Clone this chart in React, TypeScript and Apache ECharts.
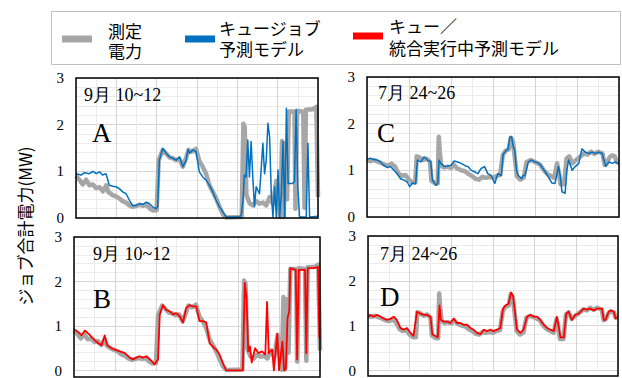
import React, { useEffect, useRef } from "react";
import * as echarts from "echarts";

// ---- September 10~12 (panels A, B) ----
const sepMeasuredT = [0, 1, 2, 3, 4, 5, 6, 7, 8, 9, 9.6, 10.9, 11.9, 12.9, 13.9, 14.9, 15.9, 16.9, 18, 19, 20, 21, 22, 23, 24, 24.6, 25.8, 26.8, 27.8, 28.8, 29.8, 30.8, 31.8, 32.8, 33.5, 34.5, 35.7, 36.7, 37.7, 38.7, 39.7, 40.7, 41.7, 42.7, 43.7, 44.7, 49.3, 49.8, 50.2, 50.7, 51.6, 52.6, 53.6, 54.6, 55.6, 56.6, 57.6, 58.6, 59.6, 60.3, 60.8, 61.3, 61.8, 62.3, 62.8, 63.3, 65.0, 65.3, 65.8, 67.6, 68.0, 68.4, 70.5, 71.5, 72];
const sepMeasured = [0.9, 0.82, 0.72, 0.82, 0.7, 0.72, 0.64, 0.66, 0.57, 0.7, 0.56, 0.49, 0.46, 0.42, 0.36, 0.33, 0.27, 0.24, 0.26, 0.28, 0.26, 0.28, 0.2, 0.16, 0.17, 1.24, 1.46, 1.38, 1.3, 1.28, 1.24, 1.26, 1.1, 1.3, 1.46, 1.42, 1.48, 1.22, 1.1, 0.95, 0.7, 0.56, 0.42, 0.24, 0.08, 0.01, 0.02, 2.02, 1.95, 0.5, 0.32, 0.27, 0.36, 0.31, 0.33, 0.27, 0.45, 0.3, 0.8, 0.3, 0.02, 1.65, 0.02, 1.6, 0.4, 2.28, 2.28, 0.2, 2.3, 2.28, 0.22, 2.32, 2.33, 2.38, 0.45];

const sepQueueJobT = [0, 1.5, 2.5, 4, 5, 6, 7, 7.9, 8.9, 9.4, 9.9, 10.9, 11.9, 12.9, 13.9, 14.9, 15.9, 16.9, 17.9, 18.9, 19.9, 20.9, 21.8, 22.8, 23.8, 24.3, 24.8, 25.8, 26.8, 27.8, 28.8, 29.8, 30.8, 31.3, 31.8, 32.8, 33.3, 33.8, 34.8, 35.7, 36.7, 37.7, 38.7, 39.7, 40.7, 41.7, 42.7, 43.7, 44.7, 48.7, 49.2, 49.7, 50.1, 50.6, 51.1, 51.6, 52.1, 52.6, 53.1, 53.6, 54.6, 55.6, 56.1, 56.6, 57.1, 57.6, 58.1, 58.6, 59.1, 59.6, 60.1, 60.6, 61.1, 61.6, 62.1, 62.6, 63.1, 64.5, 65.0, 65.5, 66.0, 66.5, 68.5, 69.0, 69.5, 72];
const sepQueueJob = [0.95, 0.92, 0.97, 0.95, 1.0, 0.95, 0.99, 0.92, 0.95, 0.83, 0.7, 0.68, 0.67, 0.63, 0.56, 0.52, 0.38, 0.26, 0.27, 0.31, 0.29, 0.34, 0.31, 0.24, 0.2, 0.24, 1.24, 1.49, 1.39, 1.31, 1.28, 1.24, 1.31, 1.21, 1.1, 1.24, 1.47, 1.39, 1.46, 1.42, 0.99, 0.88, 0.81, 0.7, 0.56, 0.38, 0.24, 0.13, 0.02, 0.02, 0.08, 0.38, 0.92, 0.88, 1.67, 0.88, 1.64, 0.88, 0.24, 0.67, 0.52, 1.6, 0.95, 1.24, 2.03, 1.74, 0.52, 0.02, 0.67, 0.02, 1.03, 0.02, 0.52, 1.64, 0.02, 2.35, 0.74, 0.74, 0.78, 2.32, 0.67, 0.02, 0.02, 1.6, 0.02, 0.04];

const sepIntegratedT = [0, 1.3, 2.2, 3.2, 4.2, 5.2, 6.1, 7.1, 8.1, 9.0, 9.7, 11.0, 12.0, 13.4, 14.9, 16.3, 17.3, 18.3, 19.2, 20.2, 21.2, 22.6, 23.6, 24.6, 25.1, 26.0, 27.0, 28.0, 29.0, 29.9, 30.9, 31.9, 32.8, 33.8, 34.8, 35.8, 36.7, 37.7, 38.7, 39.7, 40.6, 41.6, 42.6, 43.5, 44.5, 49.4, 50.0, 50.5, 51.0, 51.5, 52.0, 53.0, 54.0, 55.0, 56.0, 56.5, 57.0, 58.0, 58.5, 59.5, 60.0, 61.0, 61.5, 62.0, 62.5, 63.0, 63.3, 64.9, 65.3, 65.8, 67.6, 68.0, 68.4, 70.3, 71.4, 71.8, 72];
const sepIntegrated = [0.93, 0.86, 0.79, 0.9, 0.83, 0.75, 0.68, 0.61, 0.57, 0.79, 0.57, 0.5, 0.47, 0.43, 0.39, 0.29, 0.25, 0.29, 0.32, 0.29, 0.32, 0.22, 0.14, 0.25, 1.26, 1.47, 1.36, 1.33, 1.26, 1.29, 1.22, 1.08, 1.4, 1.47, 1.44, 1.44, 1.11, 1.11, 1.08, 0.61, 0.54, 0.47, 0.36, 0.18, 0.0, 0.0, 1.97, 1.62, 0.43, 0.54, 0.18, 0.5, 0.39, 0.43, 0.36, 1.54, 0.39, 0.47, 0.0, 0.83, 0.0, 0.65, 0.0, 0.04, 1.18, 1.33, 2.3, 2.26, 0.25, 2.26, 2.26, 0.39, 2.3, 2.3, 2.33, 0.75, 0.72];

// ---- July 24~26 (panels C, D) ----
const julMeasuredT = [0, 1, 2, 3, 4, 5, 6, 7, 8, 9, 10, 11, 12, 13, 13.8, 14.2, 15, 16, 17, 18, 18.4, 19.5, 20.2, 20.5, 20.8, 21.2, 22, 23, 24, 24.8, 25.8, 27, 28, 29, 30, 31, 32, 33, 34, 35, 36, 37, 38, 38.8, 39.6, 40.5, 41.1, 41.7, 42.2, 42.8, 43.8, 44.8, 45.6, 46.8, 48, 49.5, 50.5, 51.5, 52.5, 53.5, 54.3, 54.8, 55.3, 56.3, 57, 57.8, 58.7, 59.7, 60.7, 62, 63, 64, 65, 66, 67.3, 67.9, 68.5, 69.3, 70, 70.8, 71.3, 72];
const julMeasured = [1.22, 1.2, 1.22, 1.19, 1.16, 1.12, 1.1, 1.14, 1.08, 0.93, 0.88, 0.9, 0.8, 0.74, 0.74, 1.3, 1.28, 1.22, 1.25, 1.18, 0.78, 0.72, 0.72, 1.72, 1.4, 1.1, 1.06, 1.08, 1.05, 1.12, 1.04, 1.0, 0.98, 0.92, 0.88, 0.82, 0.8, 0.86, 0.84, 0.86, 0.84, 0.88, 0.9, 1.32, 1.42, 1.45, 1.7, 1.62, 1.3, 0.88, 0.8, 0.85, 1.18, 1.22, 1.18, 1.12, 1.0, 0.92, 0.88, 0.84, 1.15, 0.95, 0.7, 0.7, 1.25, 1.3, 1.15, 1.22, 1.28, 1.36, 1.34, 1.4, 1.35, 1.4, 1.36, 1.12, 1.15, 1.28, 1.32, 1.3, 1.18, 1.18];

const julQueueJobT = [0, 1.0, 1.9, 2.9, 3.8, 4.8, 5.8, 6.7, 7.7, 8.6, 9.6, 10.6, 11.5, 12.2, 13.0, 13.9, 14.4, 15.4, 16.3, 17.3, 18.2, 18.7, 19.7, 20.2, 20.6, 21.1, 22.1, 23.0, 24.0, 24.9, 25.9, 26.9, 27.8, 28.8, 29.8, 30.7, 31.7, 32.6, 33.6, 34.5, 35.5, 36.5, 37.4, 38.4, 38.9, 39.9, 40.3, 40.8, 41.3, 41.7, 42.2, 42.7, 43.2, 44.2, 44.6, 45.1, 46.1, 47.0, 48.0, 49.0, 49.9, 50.9, 51.8, 52.8, 53.7, 54.2, 54.7, 55.2, 55.7, 56.6, 57.1, 57.6, 58.6, 59.5, 60.5, 61.4, 62.4, 63.4, 64.3, 65.3, 66.2, 67.2, 68.2, 69.1, 70.1, 71.0, 72];
const julQueueJob = [1.24, 1.26, 1.23, 1.22, 1.18, 1.11, 1.06, 1.08, 1.0, 0.93, 0.82, 0.79, 0.75, 0.65, 0.73, 0.71, 1.22, 1.18, 1.29, 1.22, 1.18, 0.79, 0.68, 0.72, 1.22, 1.15, 1.08, 1.09, 1.11, 1.2, 1.18, 1.15, 1.11, 1.08, 1.0, 0.97, 0.93, 1.04, 1.08, 0.93, 0.89, 0.72, 0.93, 0.89, 1.35, 1.43, 1.46, 1.71, 1.72, 1.53, 1.43, 1.0, 0.89, 0.82, 0.89, 0.89, 1.18, 1.22, 1.18, 1.16, 1.08, 0.97, 0.86, 0.73, 0.72, 0.89, 1.08, 0.89, 0.54, 0.51, 1.0, 1.22, 1.0, 1.08, 1.15, 1.46, 1.39, 1.36, 1.39, 1.36, 1.39, 1.36, 1.08, 1.18, 1.15, 1.18, 1.13];

const julIntegratedT = [0, 0.7, 1.6, 2.6, 3.6, 4.5, 5.5, 6.4, 7.4, 8.3, 9.3, 10.3, 11.2, 12.2, 13.1, 14.1, 15.1, 16.1, 17.0, 18.0, 18.5, 19.4, 20.1, 20.6, 21.0, 21.8, 22.7, 23.7, 24.7, 25.6, 26.6, 27.5, 28.5, 29.5, 30.4, 31.4, 32.4, 33.3, 34.3, 35.2, 36.2, 37.2, 38.1, 38.9, 39.6, 40.5, 41.2, 41.8, 42.1, 42.9, 43.9, 44.8, 45.8, 46.8, 47.7, 48.7, 49.6, 50.6, 51.6, 52.5, 53.5, 54.4, 54.9, 55.4, 56.4, 57.1, 57.8, 58.7, 59.7, 60.7, 62.1, 63.1, 64.0, 65.0, 66.0, 67.4, 67.9, 68.4, 69.3, 69.8, 70.8, 71.3, 72];
const julIntegrated = [1.2, 1.24, 1.2, 1.24, 1.2, 1.16, 1.13, 1.15, 1.2, 1.13, 0.95, 0.91, 0.95, 0.84, 0.77, 1.31, 1.27, 1.24, 1.24, 1.2, 0.81, 0.77, 0.74, 1.45, 1.13, 1.09, 1.09, 1.06, 1.16, 1.06, 1.06, 1.02, 1.02, 0.95, 0.91, 0.84, 0.81, 0.91, 0.88, 0.91, 0.88, 0.91, 0.95, 1.38, 1.45, 1.49, 1.74, 1.66, 1.45, 0.91, 0.84, 0.91, 1.2, 1.24, 1.2, 1.2, 1.13, 1.02, 0.95, 0.91, 0.88, 1.2, 0.99, 0.74, 0.74, 1.27, 1.31, 1.13, 1.24, 1.27, 1.38, 1.36, 1.38, 1.34, 1.38, 1.38, 1.13, 1.13, 1.31, 1.34, 1.31, 1.16, 1.2];

const yTicks = [0, 1, 2, 3];
const periodLabels = ["9月 10~12", "9月 10~12", "7月 24~26", "7月 24~26"];
const panelLetters = ["A", "B", "C", "D"];
const legendNames = ["測定\n電力", "キュージョブ\n予測モデル", "キュー／\n統合実行中予測モデル"];

const GRAY = "#a6a6a6";
const BLUE = "#0070c0";
const RED = "#ff0000";

const grids = [
  { left: 76, top: 78, width: 242, height: 140 },
  { left: 74, top: 237, width: 246, height: 140 },
  { left: 367, top: 77, width: 252, height: 140 },
  { left: 368, top: 236, width: 250, height: 140 },
];
const labelPos = [
  { px: 84, py: 95, lx: 92, ly: 133 },
  { px: 93, py: 254, lx: 93, ly: 299 },
  { px: 378, py: 93, lx: 377, ly: 133 },
  { px: 380, py: 254, lx: 380, ly: 297 },
];

const zip = (t: number[], v: number[]) => t.map((x, i) => [x, v[i]]);

export default function App() {
  const ref = useRef<HTMLDivElement>(null);
  useEffect(() => {
    if (!ref.current) return;
    const chart = echarts.init(ref.current, undefined, { renderer: "svg" });
    const serif = "Liberation Serif";
    const sans = "Noto Sans CJK JP";
    const legendFont = "DejaVu Sans, Noto Sans CJK JP";

    const xAxes = grids.map((_, i) => ({
      type: "value",
      gridIndex: i,
      min: 0,
      max: 72,
      interval: 12,
      axisLabel: { show: false },
      axisTick: { show: false },
      axisLine: { show: false },
      splitLine: { show: true, lineStyle: { color: "#d4d4d4", width: 1 } },
      minorTick: { show: false, splitNumber: 2 },
      minorSplitLine: { show: true, lineStyle: { color: "#ebebeb", width: 1 } },
    }));
    const yAxes = grids.map((_, i) => ({
      type: "value",
      gridIndex: i,
      min: yTicks[0],
      max: yTicks[yTicks.length - 1],
      interval: 1,
      axisLabel: { show: true, color: "#000", fontFamily: serif, fontSize: 15, margin: 12 },
      axisTick: { show: false },
      axisLine: { show: false },
      splitLine: { show: true, lineStyle: { color: "#d4d4d4", width: 1 } },
      minorTick: { show: false, splitNumber: 5 },
      minorSplitLine: { show: true, lineStyle: { color: "#ebebeb", width: 1 } },
    }));

    const mk = (name: string, idx: number, data: number[][], color: string, width: number) => ({
      name,
      type: "line",
      xAxisIndex: idx,
      yAxisIndex: idx,
      data,
      symbol: "none",
      lineStyle: { color, width, join: "round" },
      itemStyle: { color },
      clip: true,
    });

    const series = [
      mk("測定電力", 0, zip(sepMeasuredT, sepMeasured), GRAY, 4.5),
      mk("キュージョブ予測モデル", 0, zip(sepQueueJobT, sepQueueJob), BLUE, 1.5),
      mk("測定電力", 1, zip(sepMeasuredT, sepMeasured), GRAY, 4.5),
      mk("キュー／統合実行中予測モデル", 1, zip(sepIntegratedT, sepIntegrated), RED, 1.8),
      mk("測定電力", 2, zip(julMeasuredT, julMeasured), GRAY, 4.5),
      mk("キュージョブ予測モデル", 2, zip(julQueueJobT, julQueueJob), BLUE, 1.5),
      mk("測定電力", 3, zip(julMeasuredT, julMeasured), GRAY, 4.5),
      mk("キュー／統合実行中予測モデル", 3, zip(julIntegratedT, julIntegrated), RED, 1.8),
    ];

    const graphic: any[] = [];
    grids.forEach((g) => {
      graphic.push({
        type: "rect",
        z: 100,
        silent: true,
        shape: { x: g.left, y: g.top, width: g.width, height: g.height },
        style: { fill: "none", stroke: "#000", lineWidth: 1.5 },
      });
    });
    labelPos.forEach((p, i) => {
      graphic.push({
        type: "text",
        z: 101,
        x: p.px,
        y: p.py,
        style: { text: periodLabels[i], fontFamily: serif, fontSize: 18, fill: "#000", verticalAlign: "middle", align: "left" },
      });
      graphic.push({
        type: "text",
        z: 101,
        x: p.lx,
        y: p.ly,
        style: { text: panelLetters[i], fontFamily: serif, fontSize: 27, fill: "#000", verticalAlign: "middle", align: "left" },
      });
    });
    graphic.push({
      type: "rect",
      z: 90,
      shape: { x: 51.5, y: 11.5, width: 569, height: 53 },
      style: { fill: "#fff", stroke: "#bfbfbf", lineWidth: 1 },
    });
    const legendItems = [
      { color: GRAY, sx: 62, sy: 39, tx: 108, top: 22, lh: 20 },
      { color: BLUE, sx: 185, sy: 39, tx: 219, top: 18.5, lh: 21 },
      { color: RED, sx: 353, sy: 36, tx: 389, top: 16, lh: 22 },
    ];
    legendItems.forEach((it, i) => {
      graphic.push({
        type: "line",
        z: 91,
        shape: { x1: it.sx, y1: it.sy, x2: it.sx + 30, y2: it.sy },
        style: { stroke: it.color, lineWidth: 7 },
      });
      graphic.push({
        type: "text",
        z: 91,
        x: it.tx,
        y: it.top,
        style: {
          text: legendNames[i],
          fontFamily: legendFont,
          fontSize: 17,
          lineHeight: it.lh,
          fill: "#000",
          verticalAlign: "top",
          align: "left",
        },
      });
    });
    graphic.push({
      type: "text",
      z: 91,
      x: 24,
      y: 226,
      rotation: Math.PI / 2,
      style: { text: "ジョブ合計電力(MW)", fontFamily: sans, fontSize: 17, fill: "#000", align: "center", verticalAlign: "middle" },
    });

    chart.setOption({
      animation: false,
      backgroundColor: "#fff",
      grid: grids.map((g) => ({ ...g, show: false, containLabel: false })),
      xAxis: xAxes,
      yAxis: yAxes,
      series,
      graphic,
    });
    return () => chart.dispose();
  }, []);
  return (
    <div
      ref={ref}
      style={{ position: "fixed", left: 0, top: 0, width: 622, height: 378, background: "#fff" }}
    />
  );
}
